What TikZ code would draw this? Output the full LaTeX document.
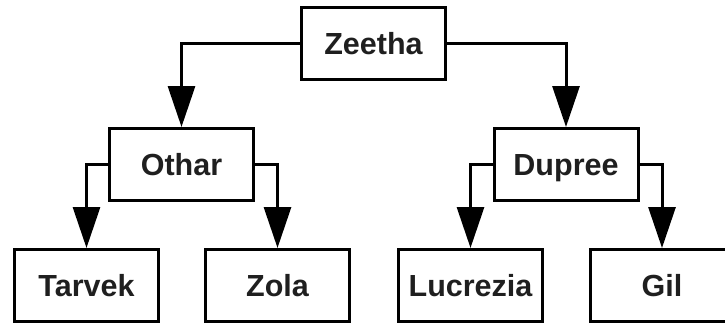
\documentclass[tikz,border=0pt]{standalone}
\usepackage{fontspec}
\setmainfont{Liberation Sans}
\usetikzlibrary{arrows.meta}
\begin{document}
\begin{tikzpicture}[x=1pt,y=-1pt,
  box/.style={draw=black,line width=3pt,fill=white,minimum width=144pt,minimum height=72pt,
    inner sep=0pt,text height=22pt,text depth=0pt,
    font=\fontsize{30.5}{36}\selectfont\bfseries,text={black!88}},
  link/.style={line width=3pt,-{Triangle[width=27pt,length=41pt]}}]
\clip (0,0) rectangle (725,324);
\useasboundingbox (0,0) rectangle (725,324);
\node[box] (zee) at (373.5,43.5) {Zeetha};
\node[box] (oth) at (181.5,164.5) {Othar};
\node[box] (dup) at (566,164.5) {Dupree};
\node[box] (tar) at (86.5,285.5) {Tarvek};
\node[box] (zol) at (277.5,285.5) {Zola};
\node[box] (luc) at (470.5,285.5) {Lucrezia};
\node[box] (gil) at (662,285.5) {Gil};
\draw[link] (zee.west) -| (oth.north);
\draw[link] (zee.east) -| (dup.north);
\draw[link] (oth.west) -| (tar.north);
\draw[link] (oth.east) -| (zol.north);
\draw[link] (dup.west) -| (luc.north);
\draw[link] (dup.east) -| (gil.north);
\end{tikzpicture}
\end{document}
